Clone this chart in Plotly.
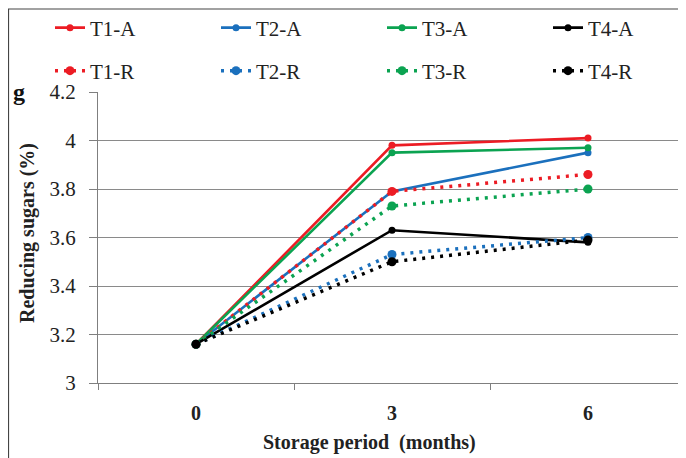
import plotly.graph_objects as go

months = ["0", "3", "6"]
T1_A = [3.16, 3.98, 4.01]
T2_A = [3.16, 3.79, 3.95]
T3_A = [3.16, 3.95, 3.97]
T4_A = [3.16, 3.63, 3.58]
T1_R = [3.16, 3.79, 3.86]
T2_R = [3.16, 3.53, 3.60]
T3_R = [3.16, 3.73, 3.80]
T4_R = [3.16, 3.50, 3.59]
y_ticks = [3, 3.2, 3.4, 3.6, 3.8, 4, 4.2]

RED = "#EC1C24"
BLUE = "#1B70BD"
GREEN = "#0BA351"
BLACK = "#000000"
FONT = "Liberation Serif, Times New Roman, serif"

# the page body has an 8px default margin, so the figure is drawn 8px in
OFF = 8
W, H = 686 - OFF, 458 - OFF
L, R, T, B = 98 - OFF, 0, 92 - OFF, 458 - 383
PW, PH = W - L - R, H - T - B


def px_x(px):
    """reference-picture x pixel -> paper coordinate"""
    return (px - OFF - L) / PW


def px_y(py):
    """reference-picture y pixel -> paper coordinate"""
    return (H - B - (py - OFF)) / PH


fig = go.Figure()
series_a = [("T1-A", T1_A, RED), ("T2-A", T2_A, BLUE), ("T3-A", T3_A, GREEN), ("T4-A", T4_A, BLACK)]
series_r = [("T1-R", T1_R, RED), ("T2-R", T2_R, BLUE), ("T3-R", T3_R, GREEN), ("T4-R", T4_R, BLACK)]

for name, vals, col in series_a:
    fig.add_trace(go.Scatter(
        x=months, y=vals, name=name, mode="lines+markers",
        line=dict(color=col, width=2.6),
        marker=dict(color=col, size=7),
        legend="legend",
    ))
for name, vals, col in series_r:
    fig.add_trace(go.Scatter(
        x=months, y=vals, name=name, mode="lines+markers",
        line=dict(color=col, width=3.5, dash="3px,6px"),
        marker=dict(color=col, size=9),
        legend="legend2",
    ))

legend_common = dict(
    orientation="h", xanchor="left", yanchor="middle",
    x=px_x(50), entrywidth=121, entrywidthmode="pixels",
    bgcolor="rgba(0,0,0,0)", font=dict(family=FONT, size=21, color="#222"),
    itemclick=False,
)

fig.update_layout(
    width=W, height=H,
    margin=dict(l=L, r=R, t=T, b=B, autoexpand=False),
    paper_bgcolor="white", plot_bgcolor="white",
    font=dict(family=FONT, size=20, color="#222"),
    legend=dict(y=px_y(28), **legend_common),
    legend2=dict(y=px_y(71), **legend_common),
    xaxis=dict(
        type="category", range=[-0.5, 2.5],
        showgrid=False, showline=True, linecolor="#7f7f7f", linewidth=1.3,
        ticks="outside", tickson="boundaries", ticklen=6, tickcolor="#7f7f7f",
        tickfont=dict(family=FONT, size=20, color="#222", weight="bold"),
        ticklabelstandoff=12,
        zeroline=False,
    ),
    yaxis=dict(
        range=[3, 4.2], tickvals=y_ticks, ticktext=[f"{v:g}" for v in y_ticks],
        showgrid=True, gridcolor="#8a8a8a", gridwidth=1.3,
        showline=True, linecolor="#7f7f7f", linewidth=1.3,
        ticks="outside", ticklen=8, tickcolor="#7f7f7f",
        tickfont=dict(family=FONT, size=21, color="#222"),
        ticklabelstandoff=9,
        zeroline=False,
    ),
    shapes=[dict(
        type="rect", xref="paper", yref="paper",
        x0=px_x(8.5), x1=px_x(700), y0=px_y(470), y1=px_y(9),
        line=dict(color="#444", width=1.2), fillcolor="rgba(0,0,0,0)", layer="below",
    )],
    annotations=[
        dict(text="<b>Storage period  (months)</b>", xref="paper", yref="paper",
             x=px_x(369), y=px_y(442), xanchor="center", yanchor="middle",
             showarrow=False, font=dict(family=FONT, size=20, color="#222")),
        dict(text="<b>Reducing sugars (%)</b>", xref="paper", yref="paper",
             x=px_x(27), y=px_y(233), xanchor="center", yanchor="middle", textangle=-90,
             showarrow=False, font=dict(family=FONT, size=20, color="#222")),
        dict(text="<b>g</b>", xref="paper", yref="paper",
             x=px_x(19), y=px_y(92), xanchor="center", yanchor="middle",
             showarrow=False, font=dict(family=FONT, size=24, color="#111")),
    ],
)

fig.write_html("out.html")
